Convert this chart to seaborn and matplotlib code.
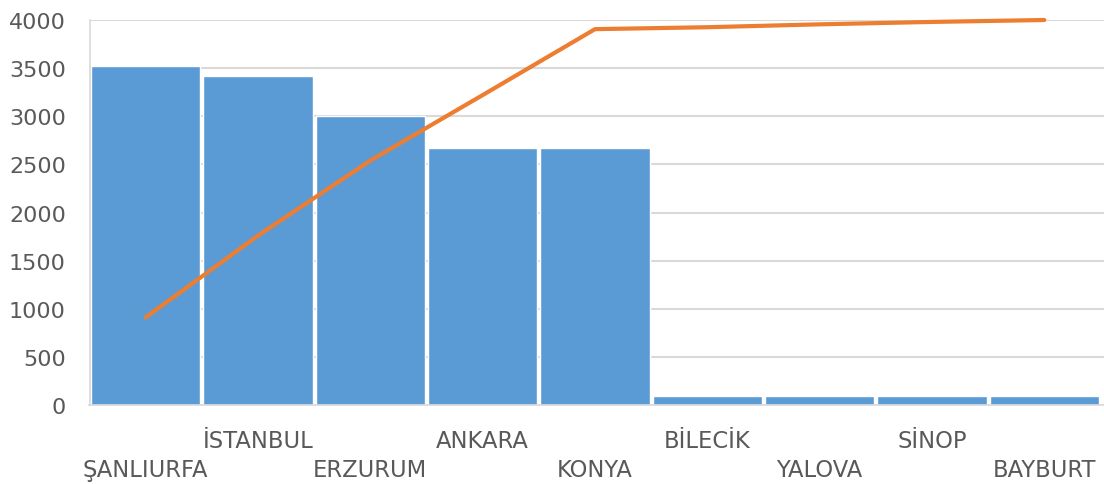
import numpy as np
import pandas as pd
import matplotlib
matplotlib.use("Agg")
import matplotlib.pyplot as plt
import seaborn as sns

# ---- data ----
cities = ["ŞANLIURFA", "İSTANBUL", "ERZURUM", "ANKARA", "KONYA",
          "BİLECİK", "YALOVA", "SİNOP", "BAYBURT"]
bar_values = [3525, 3420, 3000, 2667, 2667, 95, 95, 95, 95]
line_values = [910, 1760, 2540, 3220, 3905, 3925, 3955, 3980, 4000]
y_ticks = [0, 500, 1000, 1500, 2000, 2500, 3000, 3500, 4000]

sns.set_theme(style="white")
plt.rcParams["font.family"] = ["DejaVu Sans"]

BAR_COLOR = "#5B9BD5"
LINE_COLOR = "#ED7D31"
TEXT_COLOR = "#595959"
GRID_COLOR = "#D9D9D9"

fig = plt.figure(figsize=(11.04, 4.85), dpi=100)
W, H = 1104, 485
left_px, right_px, top_px, bottom_px = 89.5, 1104, 21, 406
ax = fig.add_axes([left_px / W, (H - bottom_px) / H,
                   (right_px - left_px) / W, (bottom_px - top_px) / H])

df = pd.DataFrame({"city": cities, "value": bar_values})
sns.barplot(data=df, x="city", y="value", color=BAR_COLOR, saturation=1,
            width=0.972, ax=ax, zorder=2)

sns.lineplot(x=np.arange(len(cities)), y=line_values, color=LINE_COLOR,
             linewidth=3.0, sort=False, ax=ax, zorder=3, clip_on=False)

ax.set_xlim(-0.5, 8.5 + 3.5 / 112.2)
ax.set_ylim(0, 4000)
ax.set_yticks(y_ticks)
ax.set_yticklabels([str(v) for v in y_ticks])
ax.set_xlabel("")
ax.set_ylabel("")

ax.set_axisbelow(True)
ax.yaxis.grid(True, color=GRID_COLOR, linewidth=1.5)
ax.xaxis.grid(False)

for s in ["top", "right"]:
    ax.spines[s].set_visible(False)
ax.spines["left"].set_color(GRID_COLOR)
ax.spines["left"].set_linewidth(1.2)
ax.spines["bottom"].set_color(GRID_COLOR)
ax.spines["bottom"].set_linewidth(1.2)

ax.tick_params(axis="y", length=0, pad=17, labelsize=16, labelcolor=TEXT_COLOR)
ax.tick_params(axis="x", length=0, labelsize=16.3, labelcolor=TEXT_COLOR)

ax.set_xticks(np.arange(len(cities)))
ax.set_xticklabels(cities)
for i, t in enumerate(ax.xaxis.get_major_ticks()):
    t.set_pad(30.6 if i % 2 else 51.4)
    t.label1.set_verticalalignment("baseline")

fig.savefig("out.png", dpi=100)
